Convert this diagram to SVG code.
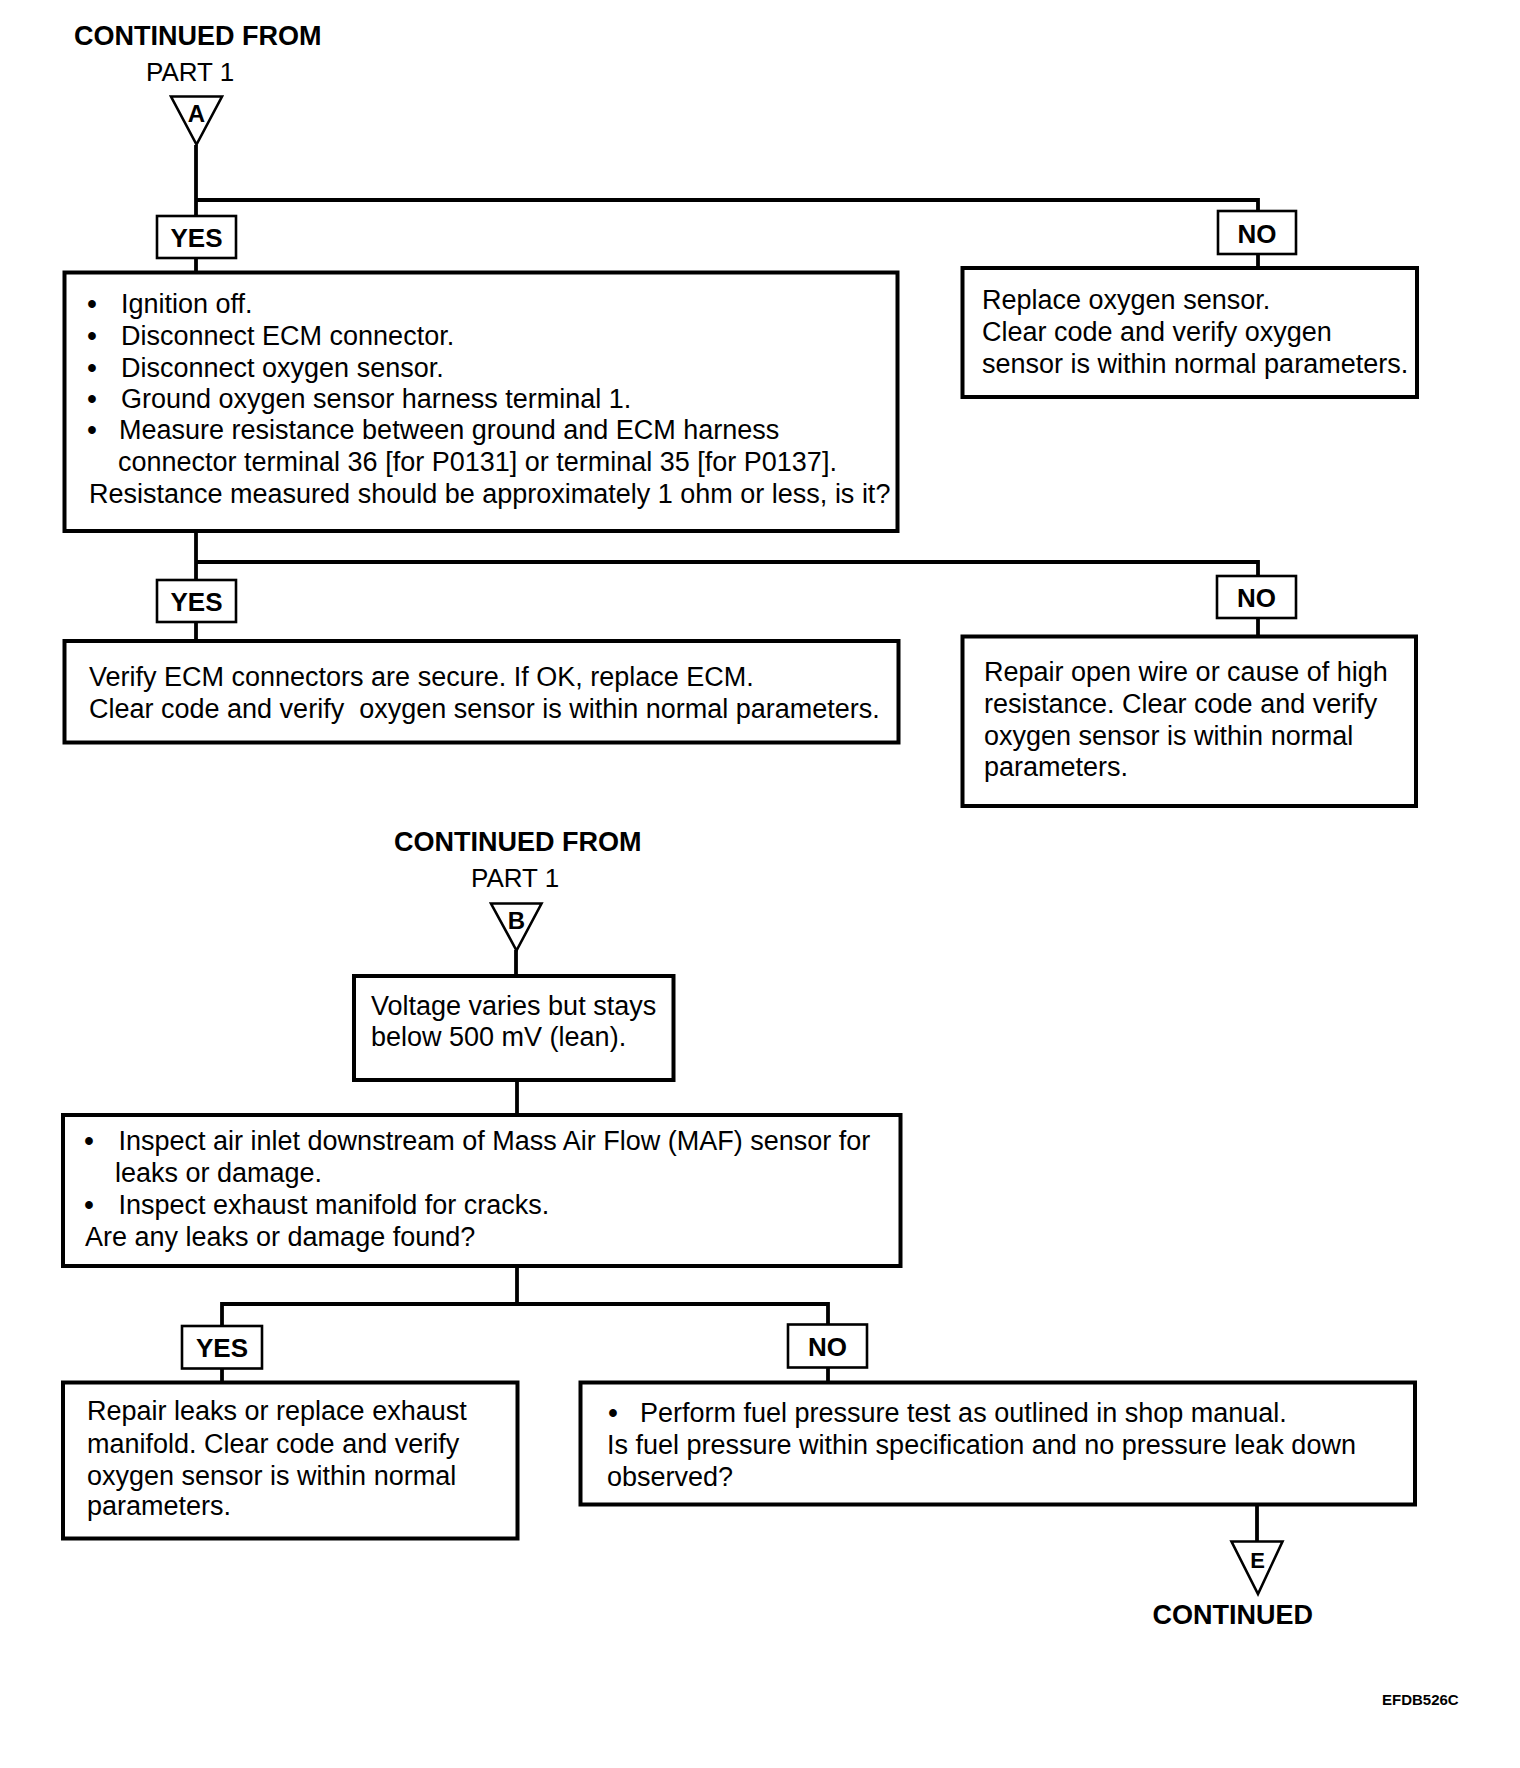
<svg xmlns="http://www.w3.org/2000/svg" width="1520" height="1768" viewBox="0 0 1520 1768">
<style>
text{font-family:"Liberation Sans",Arial,sans-serif;fill:#000}
.t{font-size:27px}
.b{font-size:27px;font-weight:bold}
.lbl{font-size:26px;font-weight:bold;text-anchor:middle}
.tri{font-size:24px;font-weight:bold;text-anchor:middle}
.box{fill:#fff;stroke:#000;stroke-width:4}
.yn{fill:#fff;stroke:#000;stroke-width:2.6}
.tr{fill:#fff;stroke:#000;stroke-width:2.6;stroke-linejoin:miter}
.c{fill:none;stroke:#000;stroke-width:3.8}
.bul{text-anchor:middle;font-weight:bold}
</style>
<rect width="1520" height="1768" fill="#fff"/>
<g id="connectors">
<polyline class="c" points="196,145 196,216"/>
<polyline class="c" points="196,200 1258,200 1258,211"/>
<line class="c" x1="196" y1="258" x2="196" y2="272"/>
<line class="c" x1="1258" y1="254" x2="1258" y2="268"/>
<polyline class="c" points="196,531 196,580"/>
<polyline class="c" points="196,562 1258,562 1258,576"/>
<line class="c" x1="196" y1="622" x2="196" y2="641"/>
<line class="c" x1="1258" y1="618" x2="1258" y2="636"/>
<line class="c" x1="516" y1="950" x2="516" y2="976"/>
<line class="c" x1="517" y1="1080" x2="517" y2="1304"/>
<polyline class="c" points="222,1326 222,1304 828,1304 828,1325"/>
<line class="c" x1="222" y1="1368" x2="222" y2="1382"/>
<line class="c" x1="828" y1="1367" x2="828" y2="1382"/>
<line class="c" x1="1257" y1="1505" x2="1257" y2="1542"/>
</g>
<g id="startA">
<text class="b" x="74" y="45">CONTINUED FROM</text>
<text class="t" x="146" y="81" style="font-size:26px">PART 1</text>
<polygon class="tr" points="171,96.5 222,96.5 196.5,144.5"/>
<text class="tri" x="196.5" y="122">A</text>
</g>
<g id="yes1"><rect class="yn" x="157" y="216" width="79" height="42"/><text class="lbl" x="196.5" y="247">YES</text></g>
<g id="no1"><rect class="yn" x="1218" y="211" width="78" height="43"/><text class="lbl" x="1257" y="243">NO</text></g>
<g id="check1">
<rect class="box" x="64.5" y="272.5" width="833" height="258.5"/>
<text class="t bul" x="92" y="313">•</text><text class="t" x="121" y="313">Ignition off.</text>
<text class="t bul" x="92" y="345">•</text><text class="t" x="121" y="345">Disconnect ECM connector.</text>
<text class="t bul" x="92" y="377">•</text><text class="t" x="121" y="377">Disconnect oxygen sensor.</text>
<text class="t bul" x="92" y="408">•</text><text class="t" x="121" y="408">Ground oxygen sensor harness terminal 1.</text>
<text class="t bul" x="92" y="439">•</text><text class="t" x="119" y="439">Measure resistance between ground and ECM harness</text>
<text class="t" x="118" y="471">connector terminal 36 [for P0131] or terminal 35 [for P0137].</text>
<text class="t" x="89" y="503">Resistance measured should be approximately 1 ohm or less, is it?</text>
</g>
<g id="replaceSensor">
<rect class="box" x="962.5" y="268" width="454.5" height="129"/>
<text class="t" x="982" y="309">Replace oxygen sensor.</text>
<text class="t" x="982" y="341">Clear code and verify oxygen</text>
<text class="t" x="982" y="372.5">sensor is within normal parameters.</text>
</g>
<g id="yes2"><rect class="yn" x="157" y="580" width="79" height="42"/><text class="lbl" x="196.5" y="611">YES</text></g>
<g id="no2"><rect class="yn" x="1217" y="576" width="79" height="42"/><text class="lbl" x="1256.5" y="607">NO</text></g>
<g id="replaceECM">
<rect class="box" x="64.5" y="641" width="834" height="101.5"/>
<text class="t" x="89" y="686">Verify ECM connectors are secure. If OK, replace ECM.</text>
<text class="t" x="89" y="717.5" xml:space="preserve">Clear code and verify  oxygen sensor is within normal parameters.</text>
</g>
<g id="repairWire">
<rect class="box" x="962.5" y="636.5" width="453.5" height="169.5"/>
<text class="t" x="984" y="681">Repair open wire or cause of high</text>
<text class="t" x="984" y="713">resistance. Clear code and verify</text>
<text class="t" x="984" y="745">oxygen sensor is within normal</text>
<text class="t" x="984" y="776">parameters.</text>
</g>
<g id="startB">
<text class="b" x="394" y="851">CONTINUED FROM</text>
<text class="t" x="471" y="887" style="font-size:26px">PART 1</text>
<polygon class="tr" points="491,903.5 541.5,903.5 516.5,950.5"/>
<text class="tri" x="516.5" y="928.5">B</text>
</g>
<g id="lean">
<rect class="box" x="354" y="976" width="319.5" height="104"/>
<text class="t" x="371" y="1015">Voltage varies but stays</text>
<text class="t" x="371" y="1046">below 500 mV (lean).</text>
</g>
<g id="inspect">
<rect class="box" x="63" y="1115" width="837.5" height="151"/>
<text class="t bul" x="89" y="1150">•</text><text class="t" x="118.5" y="1150">Inspect air inlet downstream of Mass Air Flow (MAF) sensor for</text>
<text class="t" x="115" y="1182">leaks or damage.</text>
<text class="t bul" x="89" y="1214">•</text><text class="t" x="118.5" y="1214">Inspect exhaust manifold for cracks.</text>
<text class="t" x="85" y="1245.5">Are any leaks or damage found?</text>
</g>
<g id="yes3"><rect class="yn" x="182" y="1326" width="80" height="42.5"/><text class="lbl" x="222" y="1357">YES</text></g>
<g id="no3"><rect class="yn" x="788" y="1324.5" width="79" height="43"/><text class="lbl" x="827.5" y="1356">NO</text></g>
<g id="repairLeaks">
<rect class="box" x="63" y="1382.5" width="454.5" height="156"/>
<text class="t" x="87" y="1420">Repair leaks or replace exhaust</text>
<text class="t" x="87" y="1452.5">manifold. Clear code and verify</text>
<text class="t" x="87" y="1484.5">oxygen sensor is within normal</text>
<text class="t" x="87" y="1515">parameters.</text>
</g>
<g id="fuelTest">
<rect class="box" x="580.5" y="1382.5" width="834.5" height="122"/>
<text class="t bul" x="613" y="1421.5">•</text><text class="t" x="640" y="1421.5">Perform fuel pressure test as outlined in shop manual.</text>
<text class="t" x="607" y="1453.5">Is fuel pressure within specification and no pressure leak down</text>
<text class="t" x="607" y="1485.5">observed?</text>
</g>
<g id="endE">
<polygon class="tr" points="1231.5,1541.5 1282.5,1541.5 1258,1594"/>
<text class="tri" x="1257.5" y="1567.5" style="font-size:22px">E</text>
<text class="b" x="1152.5" y="1624">CONTINUED</text>
</g>
<text x="1382" y="1705" style="font-size:15px;font-weight:bold">EFDB526C</text>
</svg>
